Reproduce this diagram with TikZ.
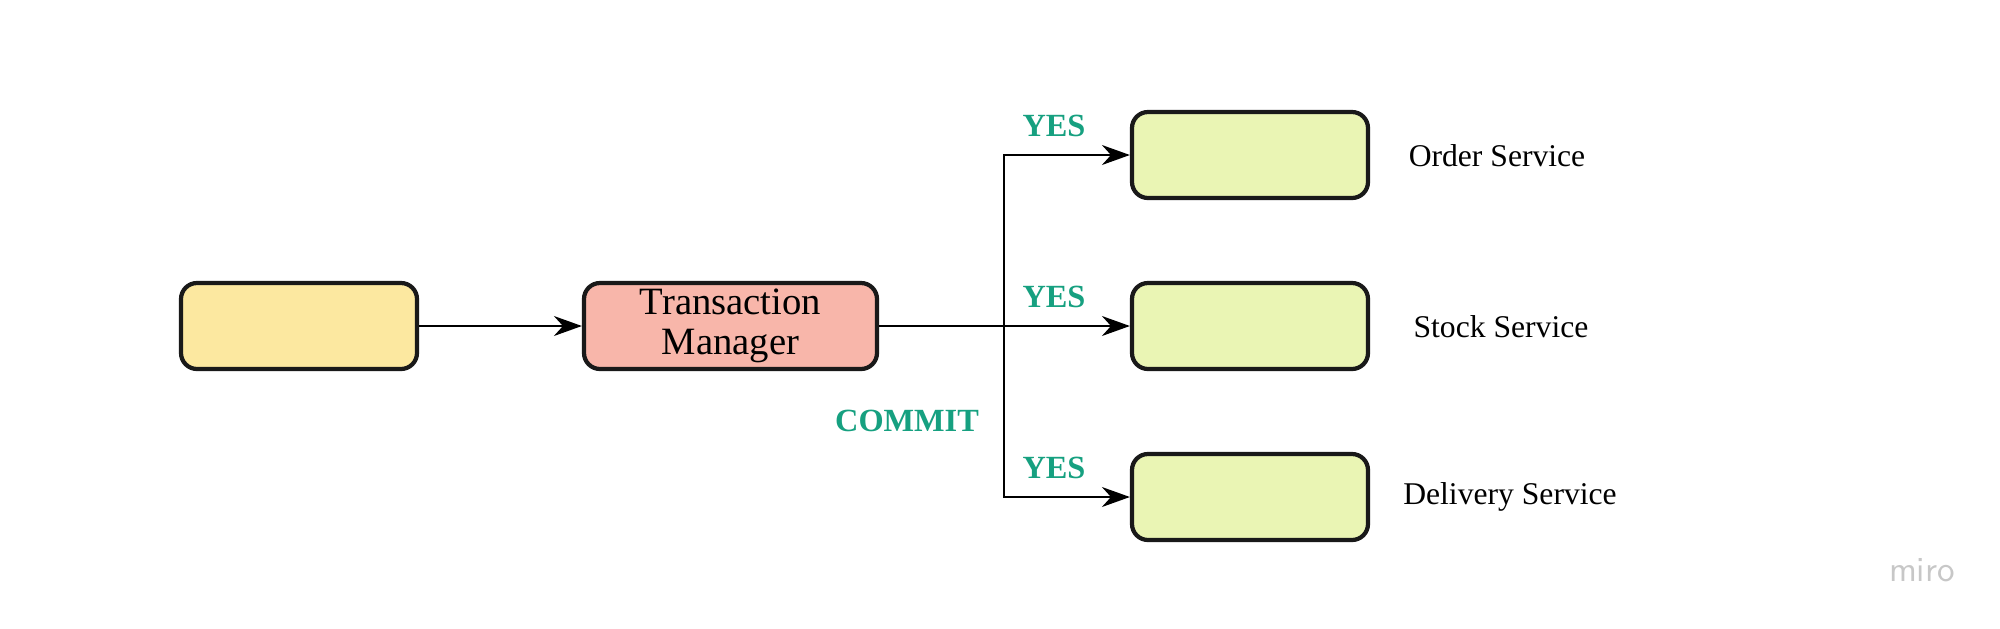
\documentclass[tikz,border=0pt]{standalone}
\usepackage{fontspec}
\setmainfont{Liberation Serif}
\usetikzlibrary{arrows.meta}

\definecolor{yesgreen}{RGB}{22,160,128}
\definecolor{clientfill}{RGB}{252,232,160}
\definecolor{tmfill}{RGB}{248,182,170}
\definecolor{svcfill}{RGB}{234,245,180}

\tikzset{
    box/.style={draw=black!90, line width=1.2pt, rounded corners=1.6mm, minimum width=2.36cm, minimum height=0.86cm, inner sep=0pt},
    flow/.style={-{Stealth[length=2.8mm, width=2mm]}, line width=0.5pt},
    vote/.style={text=yesgreen, font=\bfseries\fontsize{9.2}{11}\selectfont},
    svclabel/.style={font=\fontsize{9}{11}\selectfont}
}

\begin{document}
\begin{tikzpicture}
    \useasboundingbox (0, 0) rectangle (20, 6.28);

    % Draw boxes
    \node[box, fill=clientfill] (client) at (2.99, 3.02) {};
    \node[box, fill=tmfill, minimum width=2.93cm, align=center, font=\fontsize{11}{11.2}\selectfont] (tm) at (7.305, 3.02) {Transaction\\Manager};
    \node[box, fill=svcfill] (order) at (12.5, 4.73) {};
    \node[box, fill=svcfill] (stock) at (12.5, 3.02) {};
    \node[box, fill=svcfill] (delivery) at (12.5, 1.31) {};

    % Draw service names
    \node[svclabel] (orderlbl) at (14.97, 4.72) {Order Service};
    \node[svclabel] (stocklbl) at (15.01, 3.01) {Stock Service};
    \node[svclabel] (deliverylbl) at (15.10, 1.31) {Delivery Service};

    % Draw arrows
    \coordinate (split) at (10.04, 3.02);
    \draw[flow] (client) -- (tm);
    \draw[flow] (tm) -- (stock);
    \draw[flow] (split) |- (order.west);
    \draw[flow] (split) |- (delivery.west);

    % Draw vote labels
    \node[vote] (yes1) at (10.54, 5.02) {YES};
    \node[vote] (yes2) at (10.54, 3.31) {YES};
    \node[vote] (yes3) at (10.54, 1.60) {YES};
    \node[vote] (commit) at (9.07, 2.07) {COMMIT};

    % Watermark
    \node[text=black!22, font=\sffamily\fontsize{10}{12}\selectfont] (miro) at (19.22, 0.58) {miro};
\end{tikzpicture}
\end{document}
